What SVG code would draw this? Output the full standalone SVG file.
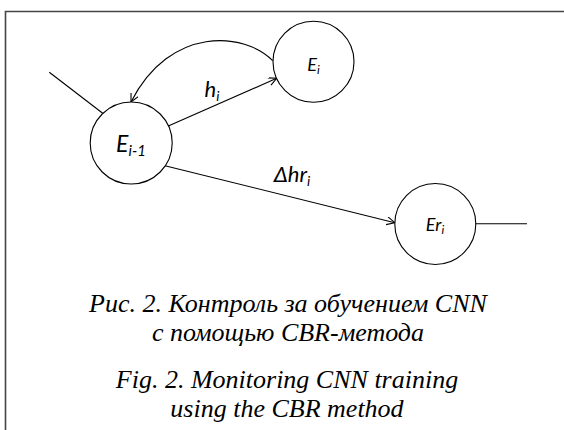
<svg xmlns="http://www.w3.org/2000/svg" width="564" height="430" viewBox="0 0 564 430">
<defs>
<style>
.node{fill:#fff;stroke:#000;stroke-width:1.1}
.edge{fill:none;stroke:#000;stroke-width:1.1}
.lbl{font-family:Lato,"Liberation Sans",sans-serif;font-style:italic;fill:#000}
.cap{font-family:"Liberation Serif",serif;font-style:italic;font-size:26px;fill:#000;text-anchor:middle}
</style>
<marker id="arr" markerWidth="10" markerHeight="10" refX="9" refY="4" orient="auto" markerUnits="userSpaceOnUse">
<path d="M1,0 L9,4 L1,8" fill="none" stroke="#000" stroke-width="1.1"/>
</marker>
</defs>
<rect width="564" height="430" fill="#fff"/>
<path d="M5.5,431 V11.5 H565" fill="none" stroke="#444" stroke-width="1.6"/>
<g id="connectors">
<line class="edge" x1="49.3" y1="72.3" x2="102.7" y2="113.3"/>
<path class="edge" d="M272.7,60.7 C245,32 170,25 131,102" marker-end="url(#arr)"/>
<line class="edge" x1="168.3" y1="126" x2="276.7" y2="78.3" marker-end="url(#arr)"/>
<line class="edge" x1="165" y1="165.7" x2="394.8" y2="222.7" marker-end="url(#arr)"/>
<line class="edge" x1="476" y1="223.7" x2="527" y2="223.7"/>
<text class="lbl" x="212" y="97" font-size="22" text-anchor="middle">h<tspan dy="4" font-size="14">i</tspan></text>
<text class="lbl" x="292" y="182" font-size="22" text-anchor="middle">Δhr<tspan dy="4" font-size="14">i</tspan></text>
</g>
<g id="E_i">
<circle class="node" cx="313.5" cy="61.7" r="40.5"/>
<text class="lbl" x="313.5" y="71" font-size="18" text-anchor="middle">E<tspan dy="3" font-size="12">i</tspan></text>
</g>
<g id="E_i-1">
<circle class="node" cx="131.2" cy="143" r="41"/>
<text class="lbl" x="131" y="152" font-size="23" text-anchor="middle">E<tspan dy="4" font-size="15">i-1</tspan></text>
</g>
<g id="Er_i">
<circle class="node" cx="435.3" cy="224" r="40.5"/>
<text class="lbl" x="435" y="231" font-size="18" text-anchor="middle">Er<tspan dy="3" font-size="12">i</tspan></text>
</g>
<g id="caption">
<text class="cap" x="288" y="312">Рис. 2. Контроль за обучением CNN</text>
<text class="cap" x="288" y="341">с помощью CBR-метода</text>
<text class="cap" x="287" y="388">Fig. 2. Monitoring CNN training</text>
<text class="cap" x="287" y="417">using the CBR method</text>
</g>
</svg>
